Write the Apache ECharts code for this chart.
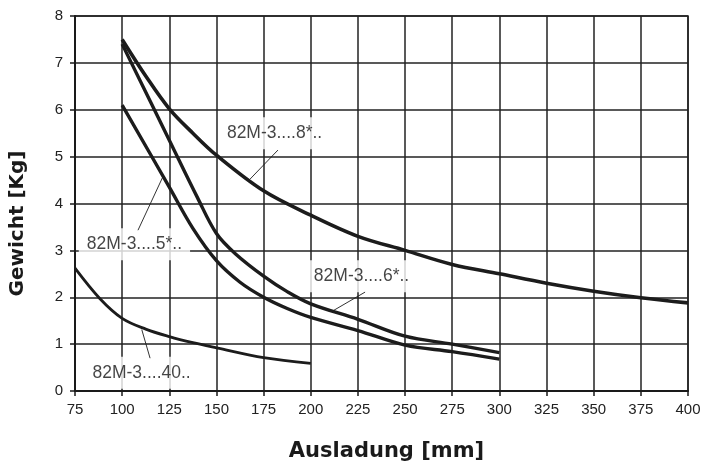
<!DOCTYPE html>
<html>
<head>
<meta charset="utf-8">
<script src="https://cdn.jsdelivr.net/npm/echarts@6/dist/echarts.min.js"></script>
<style>
html,body{margin:0;padding:0;background:#fff;}
#c{width:701px;height:463px;}
</style>
</head>
<body>
<div id="c"></div>
<script>
// ---- data ----
var s8x = [100, 112.5, 125, 137.5, 150, 175, 200, 225, 250, 275, 300, 325, 350, 375, 400];
var s8y = [7.5, 6.72, 6.02, 5.5, 5.03, 4.27, 3.75, 3.3, 3.0, 2.7, 2.5, 2.3, 2.13, 1.99, 1.88];

var s6x = [100, 125, 140, 150, 160, 175, 187.5, 200, 225, 250, 275, 300];
var s6y = [7.4, 5.35, 4.12, 3.36, 2.93, 2.45, 2.12, 1.86, 1.53, 1.17, 1.0, 0.82];

var s5x = [100, 125, 137.5, 150, 162.5, 175, 187.5, 200, 225, 250, 275, 300];
var s5y = [6.1, 4.35, 3.47, 2.78, 2.32, 2.0, 1.76, 1.57, 1.29, 0.98, 0.84, 0.68];

var s40x = [75, 88, 100, 112.5, 125, 137.5, 150, 175, 200];
var s40y = [2.62, 1.98, 1.55, 1.32, 1.16, 1.03, 0.92, 0.71, 0.59];

var labelTexts = ['82M-3....8*..', '82M-3....5*..', '82M-3....6*..', '82M-3....40..'];
var labelX = [180.8, 106.5, 226.9, 110.3];
var labelY = [5.50, 3.13, 2.45, 0.39];

// leader lines: [x1, y1, x2, y2]
var leaders = [
  [182.6, 5.14, 167.8, 4.52],
  [108.4, 3.43, 121.7, 4.58],
  [211.3, 1.70, 228.8, 2.11],
  [110.4, 1.31, 114.8, 0.70]
];

function zip(xs, ys) { return xs.map(function (x, i) { return [x, ys[i]]; }); }

var ink = '#1c1c1c';
function curve(xs, ys, w) {
  return {
    type: 'line', data: zip(xs, ys), smooth: 0.35,
    showSymbol: false, symbol: 'none', z: 4,
    lineStyle: { color: ink, width: w }
  };
}

var series = [
  curve(s8x, s8y, 3.6),
  curve(s6x, s6y, 3.4),
  curve(s5x, s5y, 3.4),
  curve(s40x, s40y, 2.8)
];

leaders.forEach(function (l) {
  series.push({
    type: 'line', data: [[l[0], l[1]], [l[2], l[3]]], showSymbol: false, symbol: 'none',
    z: 4, lineStyle: { color: ink, width: 0.9 }
  });
});

series.push({
  type: 'scatter', z: 3, symbolSize: 1,
  itemStyle: { color: 'rgba(0,0,0,0)' },
  data: labelX.map(function (x, i) { return { value: [x, labelY[i]], name: labelTexts[i] }; }),
  label: {
    show: true, position: 'inside', formatter: '{b}',
    fontFamily: 'Liberation Sans', fontSize: 17.5, color: '#151515',
    textBorderWidth: 0, textShadowBlur: 0,
    backgroundColor: '#fff', padding: [7, 8]
  }
});

var chart = echarts.init(document.getElementById('c'), null, { renderer: 'canvas' });
chart.setOption({
  animation: false,
  backgroundColor: '#fff',
  grid: {
    left: 75, right: 13, top: 16, bottom: 72, containLabel: false, outerBoundsMode: 'none',
    show: true, borderColor: '#222', borderWidth: 1.5
  },
  xAxis: {
    type: 'value', min: 75, max: 400, interval: 25,
    name: 'Ausladung [mm]', nameLocation: 'middle', nameGap: 50,
    nameTextStyle: { fontFamily: 'DejaVu Sans', fontWeight: 'bold', fontSize: 21, color: '#1a1a1a', padding: [0, 0, 0, 10] },
    axisLine: { lineStyle: { color: '#1a1a1a', width: 2 } },
    axisTick: { show: true, length: 5, lineStyle: { color: '#1a1a1a', width: 1.5 } },
    axisLabel: { margin: 11, fontFamily: 'Liberation Sans', fontSize: 15, color: '#222' },
    splitLine: { show: true, lineStyle: { color: '#222', width: 1.5 } }
  },
  yAxis: {
    type: 'value', min: 0, max: 8, interval: 1,
    name: 'Gewicht [Kg]', nameLocation: 'middle', nameGap: 47, nameRotate: 90,
    nameTextStyle: { fontFamily: 'DejaVu Sans', fontWeight: 'bold', fontSize: 20, color: '#1a1a1a', padding: [0, 40, 0, 0] },
    axisLine: { show: true, lineStyle: { color: '#1a1a1a', width: 2 } },
    axisTick: { show: true, length: 5, lineStyle: { color: '#1a1a1a', width: 1.5 } },
    axisLabel: { margin: 12, fontFamily: 'Liberation Sans', fontSize: 15, color: '#222' },
    splitLine: { show: true, lineStyle: { color: '#222', width: 1.5 } }
  },
  series: series
});
</script>
</body>
</html>
